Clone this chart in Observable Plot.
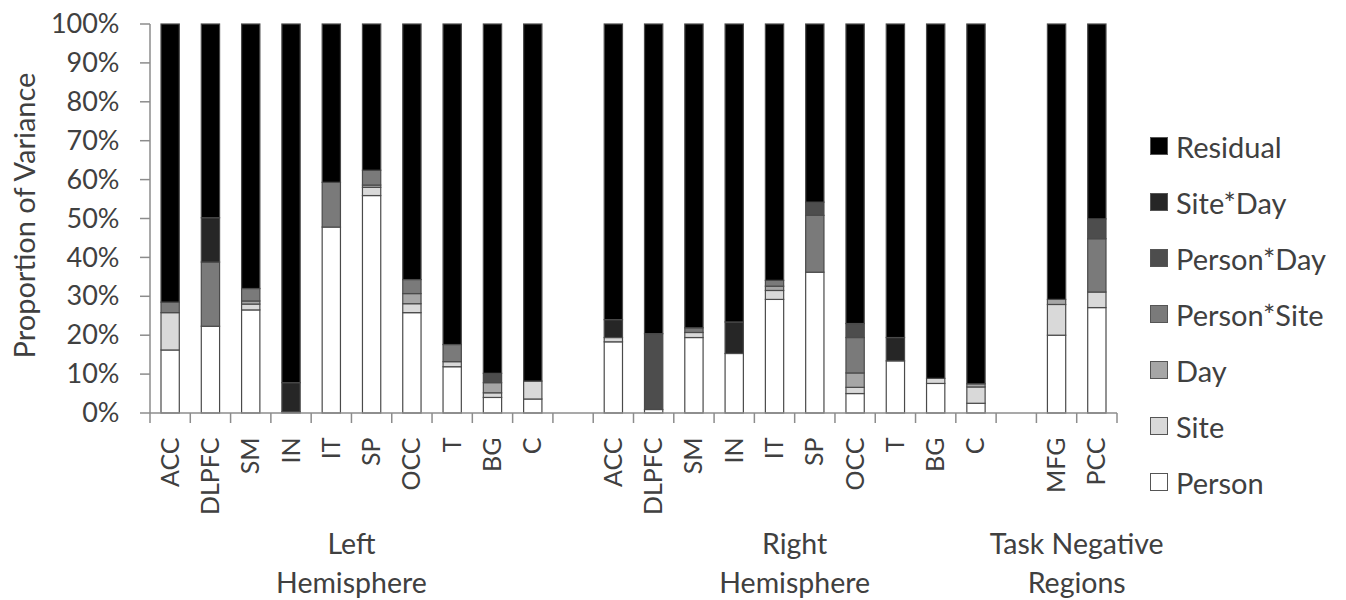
<!DOCTYPE html>
<html><head><meta charset="utf-8">
<script src="https://cdn.jsdelivr.net/npm/d3@7"></script>
<script src="https://cdn.jsdelivr.net/npm/@observablehq/plot@0.6"></script>
<style>
body{margin:0;background:#fff;font-family:Lato,sans-serif}
#wrap{position:relative;width:1346px;height:600px}
#legend{position:absolute;left:1150px;top:118px}
.row{display:flex;align-items:center;height:56px;font-size:29px;color:#404040;white-space:nowrap}
.sw{width:18px;height:18px;border:1px solid #555;margin-right:8px;box-sizing:border-box}
</style></head><body><div id="wrap"><div id="legend"></div></div>
<script>
// ---- data ----
const regionKeys = ["L-ACC","L-DLPFC","L-SM","L-IN","L-IT","L-SP","L-OCC","L-T","L-BG","L-C",
                    "R-ACC","R-DLPFC","R-SM","R-IN","R-IT","R-SP","R-OCC","R-T","R-BG","R-C",
                    "N-MFG","N-PCC"];
const regionLabels = ["ACC","DLPFC","SM","IN","IT","SP","OCC","T","BG","C",
                      "ACC","DLPFC","SM","IN","IT","SP","OCC","T","BG","C",
                      "MFG","PCC"];
const slots = ["L-ACC","L-DLPFC","L-SM","L-IN","L-IT","L-SP","L-OCC","L-T","L-BG","L-C","gap1",
               "R-ACC","R-DLPFC","R-SM","R-IN","R-IT","R-SP","R-OCC","R-T","R-BG","R-C","gap2",
               "N-MFG","N-PCC"];
const components = ["Person","Site","Day","Person*Site","Person*Day","Site*Day","Residual"];
const componentColors = ["#ffffff","#d9d9d9","#a6a6a6","#7a7a7a","#4d4d4d","#262626","#000000"];

const person      = [16.2,22.3,26.5,0.3,47.8,55.9,25.8,11.9,4.0,3.6, 18.3,0.9,19.4,15.3,29.2,36.2,5.0,13.4,7.6,2.5, 20.0,27.1];
const site        = [9.6,0,1.5,0,0,2.1,2.3,1.3,1.2,4.6, 1.1,0,1.3,0,2.3,0,1.6,0,1.3,4.2, 7.9,4.0];
const day         = [0,0,0.8,0,0,0.6,2.6,0,2.6,0, 0,0,0,0,1.1,0,3.7,0,0,0.8, 1.3,0];
const personSite  = [2.7,16.5,3.2,0,11.5,3.8,3.6,4.4,0,0, 0,0,1.2,0,1.5,14.6,9.1,0,0,0, 0,13.7];
const personDay   = [0,0,0,0,0,0,0,0,2.4,0, 0,19.5,0,0,0,3.4,3.6,0,0,0, 0,5.1];
const siteDay     = [0,11.4,0,7.5,0,0,0,0,0,0, 4.6,0,0,8.1,0,0,0,6.0,0,0, 0,0];
const residual    = [71.5,49.8,68.0,92.2,40.7,37.6,65.7,82.4,89.8,91.8, 76.0,79.6,78.1,76.6,65.9,45.8,77.0,80.6,91.1,92.5, 70.8,50.1];

const yTicks = [0,10,20,30,40,50,60,70,80,90,100];
const yTitle = "Proportion of Variance";
const groups = [
  {lines:["Left","Hemisphere"], first:"L-ACC", last:"L-C"},
  {lines:["Right","Hemisphere"], first:"R-ACC", last:"R-C"},
  {lines:["Task Negative","Regions"], first:"N-MFG", last:"N-PCC"}
];

// ---- table ----
const series = [person, site, day, personSite, personDay, siteDay, residual];
const labelOf = Object.fromEntries(regionKeys.map((k,i)=>[k, regionLabels[i]]));
const table = [];
regionKeys.forEach((k,i)=>{
  components.forEach((c,j)=>{
    const v = series[j][i];
    if (v > 0) table.push({slot:k, component:c, value:v});
  });
});

const textColor = "#404040", axisColor = "#8c8c8c";

function decorations(index, scales) {
  const {x, y} = scales;
  const step = x(slots[1]) - x(slots[0]);
  const x0 = x(slots[0]), y0 = y(0), yTop = y(100);
  const g = d3.create("svg:g");
  g.append("line").attr("x1",x0).attr("x2",x0).attr("y1",y0).attr("y2",yTop).attr("stroke",axisColor).attr("stroke-width",1.5);
  g.append("line").attr("x1",x0).attr("x2",x(slots[slots.length-1])+step).attr("y1",y0).attr("y2",y0).attr("stroke",axisColor).attr("stroke-width",1.5);
  yTicks.forEach(t=>{
    g.append("line").attr("x1",x0-10).attr("x2",x0).attr("y1",y(t)).attr("y2",y(t)).attr("stroke",axisColor).attr("stroke-width",1.5);
  });
  const edges = slots.map(s=>x(s)).concat([x(slots[slots.length-1])+step]);
  edges.forEach(e=>{
    g.append("line").attr("x1",e).attr("x2",e).attr("y1",y0).attr("y2",y0+10).attr("stroke",axisColor).attr("stroke-width",1.5);
  });
  g.append("text").attr("transform",`translate(23,${(y0+yTop)/2 - 3}) rotate(-90)`)
    .attr("text-anchor","middle").attr("dominant-baseline","central")
    .attr("fill",textColor).attr("font-size",29).text(yTitle);
  groups.forEach(gr=>{
    const cx = (x(gr.first) + x(gr.last) + step)/2;
    const t = g.append("text").attr("text-anchor","middle").attr("fill",textColor).attr("font-size",28.5);
    gr.lines.forEach((ln,i)=>{
      t.append("tspan").attr("x",cx).attr("y",y0+141+i*39).text(ln);
    });
  });
  return g.node();
}

const chart = Plot.plot({
  width: 1346, height: 600,
  marginLeft: 150, marginRight: 229, marginTop: 24, marginBottom: 187,
  style: {fontFamily: "Lato, sans-serif", background: "#fff"},
  x: {domain: slots, padding: 0, round: false, axis: null},
  y: {domain: [0,100], axis: null},
  color: {domain: components, range: componentColors},
  marks: [
    Plot.barY(table, Plot.stackY({x:"slot", y:"value", fill:"component", order: components,
      stroke:"#4a4a4a", strokeWidth:1.2, insetLeft:11, insetRight:11})),
    Plot.axisY({ticks: yTicks, tickFormat: d=>d+"%", tickSize:0, tickPadding:31, fontSize:27, fill:textColor, label:null}),
    Plot.axisX({tickFormat: k=>labelOf[k] || "", tickRotate:-90, tickSize:0, tickPadding:24, fontSize:25, fill:textColor, label:null}),
    decorations
  ]
});
document.getElementById("wrap").prepend(chart);

const legend = document.getElementById("legend");
components.slice().reverse().forEach(c=>{
  const row = document.createElement("div"); row.className="row";
  const sw = document.createElement("div"); sw.className="sw";
  sw.style.background = componentColors[components.indexOf(c)];
  const tx = document.createElement("span"); tx.textContent = c;
  row.appendChild(sw); row.appendChild(tx); legend.appendChild(row);
});
</script></body></html>
